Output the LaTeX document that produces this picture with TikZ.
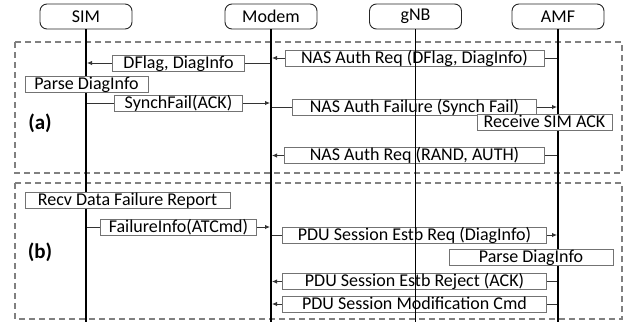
\documentclass[tikz,border=0pt]{standalone}
\usepackage{fontspec}
\setmainfont{Carlito}
\usetikzlibrary{arrows.meta}
\begin{document}
\begin{tikzpicture}[x=1pt,y=-1pt,
  font=\fontsize{18}{20}\selectfont,
  head/.style={draw=black!85, line width=0.9pt, rounded corners=7pt, minimum width=92pt, minimum height=25pt, inner sep=0pt},
  life/.style={draw=black, line width=1.6pt},
  frame/.style={draw=black!50, line width=1.1pt, dash pattern=on 6pt off 4pt},
  msgbox/.style={draw=black!55, fill=white, line width=0.8pt, inner xsep=3pt, inner ysep=0pt, text height=13pt, text depth=3pt},
  actbox/.style={draw=black!55, fill=white, line width=0.8pt, inner xsep=3pt, inner ysep=0pt, text height=13pt, text depth=3pt},
  arr/.style={draw=black!80, line width=0.9pt, -{Latex[length=5pt,width=4.5pt]}, shorten >=1pt},
  lbl/.style={font=\fontsize{21}{23}\selectfont\bfseries}
]
\useasboundingbox (0,0) rectangle (626,322);
% frames
\draw[frame] (15,42) rectangle (622,173);
\draw[frame] (15,183) rectangle (622,319);
% headers
\node[head] (sim) at (86,16.5) {SIM};
\node[head] (modem) at (271,16.5) {Modem};
\node[head] (gnb) at (415.5,16.5) {gNB};
\node[head] (amf) at (558,16.5) {AMF};
% row coordinates
\coordinate (ya1) at (0,58);
\coordinate (ya2) at (0,63);
\coordinate (ya4) at (0,103);
\coordinate (ya5) at (0,107);
\coordinate (ya7) at (0,155.5);
\coordinate (yb2) at (0,227);
\coordinate (yb3) at (0,235);
\coordinate (yb5) at (0,281.5);
\coordinate (yb6) at (0,304);
\coordinate (bot) at (0,322);
% messages
\draw[arr] (amf |- ya1) -- (modem |- ya1) node[msgbox, midway, minimum width=259pt] (m1) {NAS Auth Req (DFlag, DiagInfo)};
\draw[arr] (modem |- ya2) -- (sim |- ya2) node[msgbox, midway, minimum width=132pt] (m2) {DFlag, DiagInfo};
\draw[arr] (sim |- ya4) -- (modem |- ya4) node[msgbox, midway, minimum width=128pt] (m4) {SynchFail(ACK)};
\draw[arr] (modem |- ya5) -- (amf |- ya5) node[msgbox, midway, minimum width=244pt] (m5) {NAS Auth Failure (Synch Fail)};
\draw[arr] (amf |- ya7) -- (modem |- ya7) node[msgbox, midway, minimum width=260pt] (m7) {NAS Auth Req (RAND, AUTH)};
\draw[arr] (sim |- yb2) -- (modem |- yb2) node[msgbox, midway, minimum width=156pt] (n2) {FailureInfo(ATCmd)};
\draw[arr] (modem |- yb3) -- (amf |- yb3) node[msgbox, midway, minimum width=264pt] (n3) {PDU Session Estb Req (DiagInfo)};
\draw[arr] (amf |- yb5) -- (modem |- yb5) node[msgbox, midway, minimum width=264pt] (n5) {PDU Session Estb Reject (ACK)};
\draw[arr] (amf |- yb6) -- (modem |- yb6) node[msgbox, midway, minimum width=264pt] (n6) {PDU Session Modification Cmd};
% lifelines
\draw[life] (sim.south) -- (sim |- bot);
\draw[life] (modem.south) -- (modem |- bot);
\draw[life] (gnb.south) -- (gnb |- bot);
\draw[life] (amf.south) -- (amf |- bot);
% actions
\node[actbox, minimum width=123pt] (a3) at (86.5,84) {Parse DiagInfo};
\node[actbox, minimum width=135pt] (a6) at (544.5,122) {Receive SIM ACK};
\node[actbox, minimum width=205pt] (b1) at (127.5,200) {Recv Data Failure Report};
\node[actbox, minimum width=164pt] (b4) at (531,257) {Parse DiagInfo};
% labels
\node[lbl] (la) at (40,123) {(a)};
\node[lbl] (lb) at (40,252) {(b)};
\end{tikzpicture}
\end{document}
